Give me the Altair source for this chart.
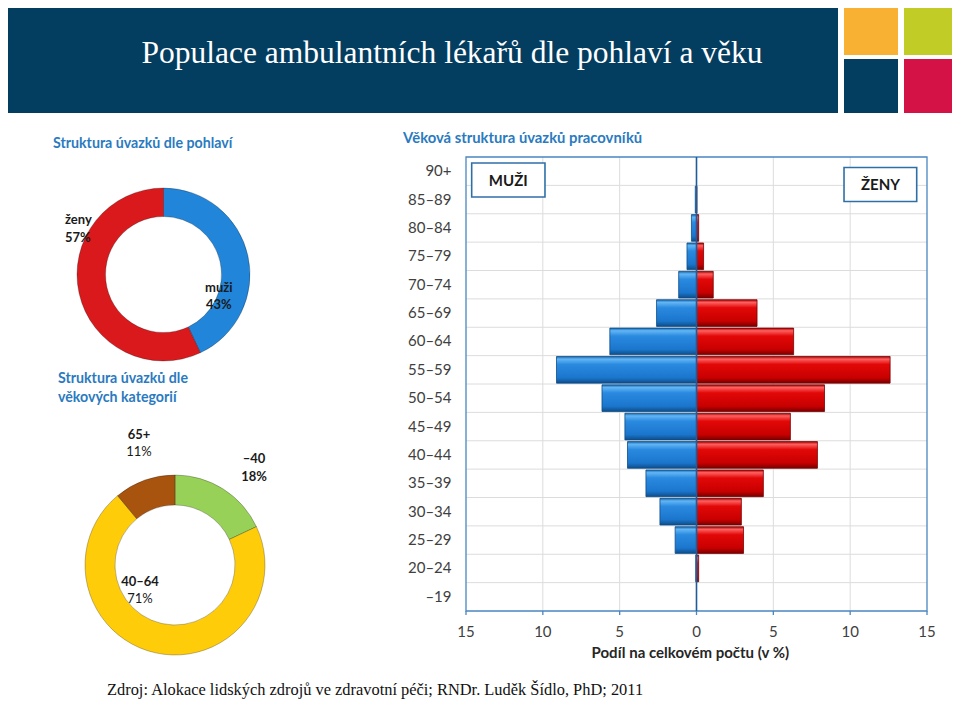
import altair as alt
import pandas as pd

# ---------------- data ----------------
vekove_skupiny = ["90+", "85–89", "80–84", "75–79", "70–74", "65–69", "60–64", "55–59",
                  "50–54", "45–49", "40–44", "35–39", "30–34", "25–29", "20–24", "–19"]
muzi = [0.0, 0.08, 0.33, 0.62, 1.16, 2.60, 5.64, 9.11, 6.15, 4.66, 4.49, 3.29, 2.38, 1.39, 0.05, 0.0]
zeny = [0.0, 0.03, 0.14, 0.46, 1.09, 3.94, 6.32, 12.60, 8.33, 6.11, 7.87, 4.35, 2.92, 3.06, 0.14, 0.0]

pohlavi_kategorie = ["muži", "ženy"]
pohlavi_podil = [43, 57]

vek_kategorie = ["–40", "40–64", "65+"]
vek_podil = [18, 71, 11]

osa_x_hodnoty = [-15, -10, -5, 0, 5, 10, 15]
mrizka_x = [-10, -5, 5, 10]

nadpis = "Populace ambulantních lékařů dle pohlaví a věku"
zdroj = "Zdroj: Alokace lidských zdrojů ve zdravotní péči; RNDr. Luděk Šídlo, PhD; 2011"
osa_x_titulek = "Podíl na celkovém počtu (v %)"

# ---------------- styles ----------------
FONT = "Lato"
SERIF = "Liberation Serif"
NAVY = "#033d5f"
TITLE_BLUE = "#2a7abf"
AX = "#4a86c0"
GRID = "#dcdcdc"
TXT = "#404040"
W, H = 944, 603
X_RANGE = [458, 919]
Y_RANGE = [149, 603]

one = pd.DataFrame({"_": [0]})

xscale = alt.Scale(domain=[-15, 15], range=X_RANGE, nice=False, zero=False)
yscale = alt.Scale(domain=vekove_skupiny, range=Y_RANGE, paddingInner=0.06, paddingOuter=0.03)


def xd(v):
    return alt.XDatum(v, type="quantitative", scale=xscale, axis=None)


def x2d(v):
    return alt.X2Datum(v)


pyr = pd.DataFrame({"vek": vekove_skupiny,
                    "muzi": [-v for v in muzi],
                    "zeny": zeny})


def grad(c_edge_top, c_hi, c_mid, c_low, c_edge_bot):
    return alt.LinearGradient(
        gradient="linear", x1=0, x2=0, y1=0, y2=1,
        stops=[alt.GradientStop(offset=0, color=c_edge_top),
               alt.GradientStop(offset=0.1, color=c_hi),
               alt.GradientStop(offset=0.3, color=c_mid),
               alt.GradientStop(offset=0.8, color=c_low),
               alt.GradientStop(offset=1, color=c_edge_bot)])


blue_grad = grad("#1466b0", "#63b6f4", "#2a8ae0", "#1a76cc", "#0e4c88")
red_grad = grad("#a30000", "#ff6060", "#e20808", "#c80000", "#780000")

# ---------------- header ----------------
def vrect(x0, x1, y0, y1, color):
    return alt.Chart(one).mark_rect(color=color).encode(
        x=alt.value(x0), x2=alt.value(x1), y=alt.value(y0), y2=alt.value(y1))

header = [
    vrect(0, 830, 0, 105, NAVY),
    vrect(836, 890, 0, 47, "#f8b133"),
    vrect(896, 944, 0, 47, "#c2cc26"),
    vrect(836, 890, 51, 105, NAVY),
    vrect(896, 944, 51, 105, "#d41245"),
]

def label(txt, x, y, size=13, weight="bold", color="#1a1a1a", align="left", font=FONT, baseline="middle"):
    return alt.Chart(one).mark_text(text=txt, font=font, fontSize=size, fontWeight=weight,
                                    color=color, align=align, baseline=baseline).encode(
        x=alt.value(x), y=alt.value(y))

title_txt = label(nadpis, 444, 55, size=31.5, weight="normal", color="white", align="center",
                  font=SERIF, baseline="alphabetic")
footer_txt = label(zdroj, 99, 682, size=16.4, weight="normal", color="#111111", font=SERIF)

sec_titles = [
    label("Struktura úvazků dle pohlaví", 45, 136, size=14.2, color=TITLE_BLUE),
    label("Struktura úvazků dle", 50, 371, size=14.2, color=TITLE_BLUE),
    label("věkových kategorií", 50, 390, size=14.2, color=TITLE_BLUE),
    label("Věková struktura úvazků pracovníků", 395, 131, size=14.8, color=TITLE_BLUE),
]

# ---------------- donuts ----------------
d1 = pd.DataFrame({"kategorie": pohlavi_kategorie, "podil": pohlavi_podil,
                   "poradi": list(range(len(pohlavi_kategorie)))})
d2 = pd.DataFrame({"kategorie2": vek_kategorie, "podil": vek_podil,
                   "poradi": list(range(len(vek_kategorie)))})

donut1 = alt.Chart(d1).mark_arc(outerRadius=86.5, innerRadius=58, stroke="#000000",
                                strokeOpacity=0.25, strokeWidth=1).encode(
    theta=alt.Theta("podil:Q", stack=True),
    color=alt.Color("kategorie:N", legend=None,
                    scale=alt.Scale(domain=pohlavi_kategorie, range=["#2185d9", "#d9191c"])),
    order=alt.Order("poradi:Q"),
    x=alt.value(155.5), y=alt.value(266.5))

donut2 = alt.Chart(d2).mark_arc(outerRadius=90, innerRadius=60, stroke="#000000",
                                strokeOpacity=0.25, strokeWidth=1).encode(
    theta=alt.Theta("podil:Q", stack=True),
    color=alt.Color("kategorie2:N", legend=None,
                    scale=alt.Scale(domain=vek_kategorie, range=["#98d158", "#ffcc0a", "#a8540f"])),
    order=alt.Order("poradi:Q"),
    x=alt.value(167), y=alt.value(557))

donut_labels = [
    label(f"{pohlavi_kategorie[1]}", 57, 212),
    label(f"{pohlavi_podil[1]}%", 57, 230),
    label(f"{pohlavi_kategorie[0]}", 197, 280),
    label(f"{pohlavi_podil[0]}%", 198, 297),
    label(vek_kategorie[2], 131, 427, align="center"),
    label(f"{vek_podil[2]}%", 131, 444, weight="normal", align="center"),
    label(vek_kategorie[0], 246, 451, align="center"),
    label(f"{vek_podil[0]}%", 246, 469, align="center"),
    label(vek_kategorie[1], 132, 574, align="center"),
    label(f"{vek_podil[1]}%", 132, 591, weight="normal", align="center"),
]

# ---------------- pyramid ----------------
vgrid = alt.Chart(pd.DataFrame({"m": mrizka_x})).mark_rule(color=GRID, strokeWidth=1).encode(
    x=alt.X("m:Q", scale=xscale, axis=None), y=alt.value(Y_RANGE[0]), y2=alt.value(Y_RANGE[1]))

hgrid = alt.Chart(pd.DataFrame({"vek": vekove_skupiny[1:]})).mark_rule(
    color=GRID, strokeWidth=1, yOffset=-0.85).encode(
    y=alt.Y("vek:N", scale=yscale, axis=None, bandPosition=0),
    x=xd(-15), x2=x2d(15))

frame = alt.Chart(one).mark_rect(fillOpacity=0, stroke=AX, strokeWidth=1.3).encode(
    x=xd(-15), x2=x2d(15), y=alt.value(Y_RANGE[0]), y2=alt.value(Y_RANGE[1]))

tick_df = pd.DataFrame({"v": osa_x_hodnoty})
ticks = alt.Chart(tick_df).mark_rule(color=AX, strokeWidth=1.3).encode(
    x=alt.X("v:Q", scale=xscale, axis=None), y=alt.value(Y_RANGE[1]), y2=alt.value(Y_RANGE[1] + 4))
tick_labels = alt.Chart(tick_df).transform_calculate(lab="abs(datum.v)").mark_text(
    font=FONT, fontSize=15, color=TXT, baseline="middle", align="center").encode(
    x=alt.X("v:Q", scale=xscale, axis=None), y=alt.value(623.7), text="lab:Q")
axis_title = alt.Chart(one).mark_text(text=osa_x_titulek, font=FONT, fontSize=15,
                                      fontWeight="bold", color="#262626", baseline="middle").encode(
    x=xd(-0.4), y=alt.value(645.3))

bars_m = alt.Chart(pyr).mark_bar(fill=blue_grad, stroke="#0e4c88", strokeWidth=0.8).encode(
    x=alt.X("muzi:Q", scale=xscale, axis=None),
    y=alt.Y("vek:N", scale=yscale, axis=None))

bars_z = alt.Chart(pyr).mark_bar(fill=red_grad, stroke="#780000", strokeWidth=0.8).encode(
    x=alt.X("zeny:Q", scale=xscale, axis=None),
    y=alt.Y("vek:N", scale=yscale, axis=None))

zero_line = alt.Chart(one).mark_rule(color="#1f5c99", strokeWidth=1.6).encode(
    x=xd(0), y=alt.value(Y_RANGE[0]), y2=alt.value(Y_RANGE[1]))

age_labels = alt.Chart(pyr).mark_text(align="right", baseline="middle", font=FONT,
                                      fontSize=15, color=TXT).encode(
    x=alt.value(443.5), y=alt.Y("vek:N", scale=yscale, axis=None), text="vek:N")

box_m = alt.Chart(one).mark_rect(fill="white", stroke="#2f6fa8", strokeWidth=1.6).encode(
    x=xd(-14.63), x2=x2d(-9.86), y=alt.value(155), y2=alt.value(189))
box_z = alt.Chart(one).mark_rect(fill="white", stroke="#2f6fa8", strokeWidth=1.6).encode(
    x=xd(9.6), x2=x2d(14.33), y=alt.value(159.5), y2=alt.value(193.5))
txt_m = alt.Chart(one).mark_text(text="MUŽI", font=FONT, fontSize=15, fontWeight="bold",
                                 color="#1a1a1a").encode(x=xd(-12.25), y=alt.value(173))
txt_z = alt.Chart(one).mark_text(text="ŽENY", font=FONT, fontSize=15, fontWeight="bold",
                                 color="#1a1a1a").encode(x=xd(11.97), y=alt.value(177))

layers = (header + [title_txt] + sec_titles +
          [vgrid, hgrid, frame, ticks, tick_labels, axis_title, bars_m, bars_z, zero_line,
           age_labels, box_m, box_z, txt_m, txt_z, donut1, donut2] + donut_labels + [footer_txt])

chart = alt.layer(*layers).resolve_scale(
    color="independent", theta="independent"
).properties(
    width=W, height=H,
    padding={"left": 0, "top": 0, "right": 0, "bottom": 92},
    autosize=alt.AutoSizeParams(type="none"),
).configure_view(stroke=None)

chart.save("out.html", embed_options={"renderer": "svg", "actions": False})
